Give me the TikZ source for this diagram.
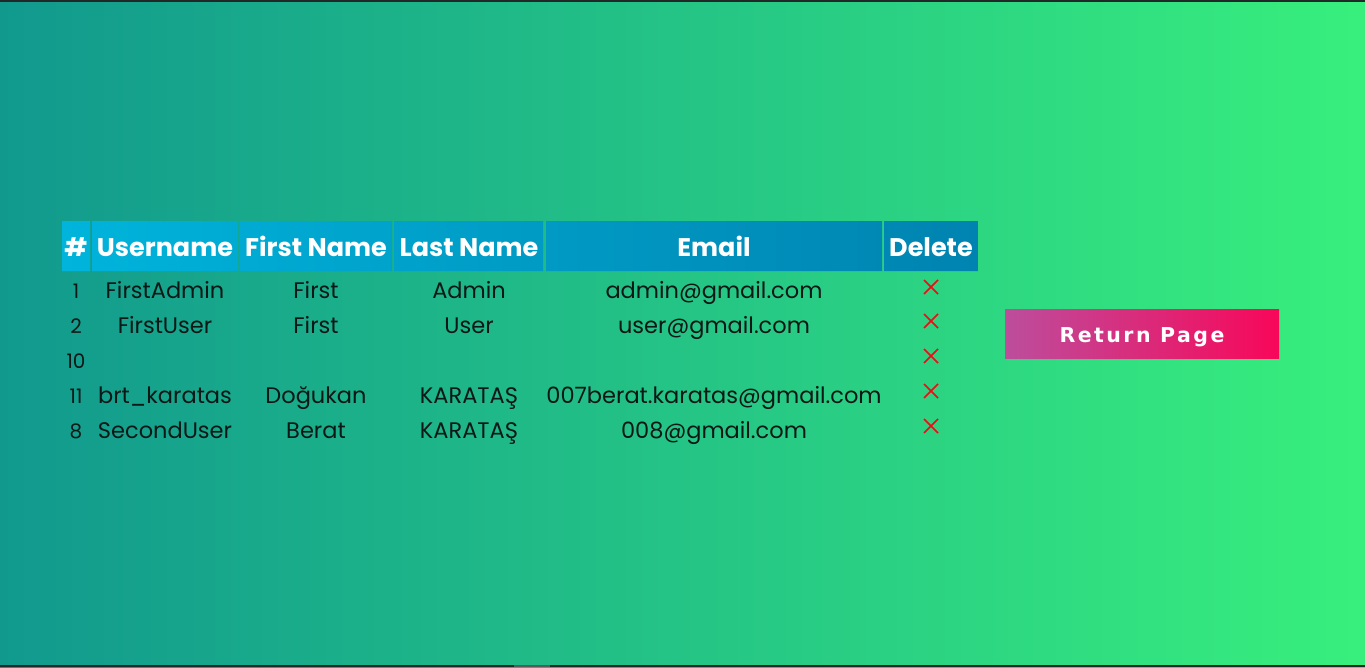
\documentclass[tikz,border=0pt]{standalone}
\usepackage{fontspec}
\setmainfont{Poppins}
\newfontfamily\btnfont[LetterSpace=12]{DejaVu Sans}
\definecolor{bgL}{RGB}{17,153,142}
\definecolor{bgR}{RGB}{56,239,125}
\definecolor{hdL}{RGB}{0,180,219}
\definecolor{hdR}{RGB}{0,131,176}
\definecolor{btL}{RGB}{188,78,156}
\definecolor{btR}{RGB}{248,7,89}
\definecolor{txt}{RGB}{12,24,22}
\definecolor{xred}{RGB}{240,10,20}
\definecolor{frame}{RGB}{34,40,40}
\tikzset{
  x=1pt,y=-1pt,
  hdr/.style={text=white,font=\fontsize{25.5}{25.5}\selectfont\bfseries,anchor=base,inner sep=0},
  cell/.style={text=txt,font=\fontsize{22.5}{22.5}\selectfont,anchor=base,inner sep=0},
  num/.style={text=txt,font=\fontsize{20}{20}\selectfont,anchor=base,inner sep=0},
  xmark/.style={draw=xred,line width=1.6pt},
}
\begin{document}
\begin{tikzpicture}
\useasboundingbox (0,0) rectangle (1365,667);
\shade[left color=bgL,right color=bgR] (0,0) rectangle (1365,667);
\fill[frame] (0,0) rectangle (1365,1.5);
\fill[frame] (0,665) rectangle (1365,667);
\fill[gray!70!black] (514,665) rectangle (550,667);
% header cells
\begin{scope}
\clip (62,221) rectangle (90,271)
      (92,221) rectangle (238,271)
      (240,221) rectangle (392,271)
      (394,221) rectangle (543,271)
      (546,221) rectangle (882,271)
      (884,221) rectangle (978,271);
\shade[left color=hdL,right color=hdR] (62,221) rectangle (978,271);
\end{scope}
\node[hdr] (h0) at (76,256) {\#};
\node[hdr] (h1) at (165,256) {Username};
\node[hdr] (h2) at (316,256) {First Name};
\node[hdr] (h3) at (469,256) {Last Name};
\node[hdr] (h4) at (714,256) {Email};
\node[hdr] (h5) at (931,256) {Delete};
% rows
\node[num] (r1c0) at (76,298) {1};
\node[cell] (r1c1) at (165,298) {FirstAdmin};
\node[cell] (r1c2) at (316,298) {First};
\node[cell] (r1c3) at (469,298) {Admin};
\node[cell] (r1c4) at (714,298) {admin@gmail.com};
\node[num] (r2c0) at (76,333) {2};
\node[cell] (r2c1) at (165,333) {FirstUser};
\node[cell] (r2c2) at (316,333) {First};
\node[cell] (r2c3) at (469,333) {User};
\node[cell] (r2c4) at (714,333) {user@gmail.com};
\node[num] (r3c0) at (76,368) {10};
\node[num] (r4c0) at (76,403) {11};
\node[cell] (r4c1) at (165,403) {brt\_karatas};
\node[cell] (r4c2) at (316,403) {Doğukan};
\node[cell] (r4c3) at (469,403) {KARATAŞ};
\node[cell] (r4c4) at (714,403) {007berat.karatas@gmail.com};
\node[num] (r5c0) at (76,438) {8};
\node[cell] (r5c1) at (165,438) {SecondUser};
\node[cell] (r5c2) at (316,438) {Berat};
\node[cell] (r5c3) at (469,438) {KARATAŞ};
\node[cell] (r5c4) at (714,438) {008@gmail.com};
% delete marks
\foreach \yy in {287,321,356,391,426}{
  \draw[xmark] (924,\yy-7) -- (938,\yy+7);
  \draw[xmark] (924,\yy+7) -- (938,\yy-7);
}
% button
\shade[left color=btL,right color=btR] (1005,309) rectangle (1279,358);
\node[text=white,font=\btnfont\fontsize{20.5}{20.5}\selectfont\bfseries,inner sep=0,anchor=base] (btn) at (1142,342) {Return Page};
\end{tikzpicture}
\end{document}
